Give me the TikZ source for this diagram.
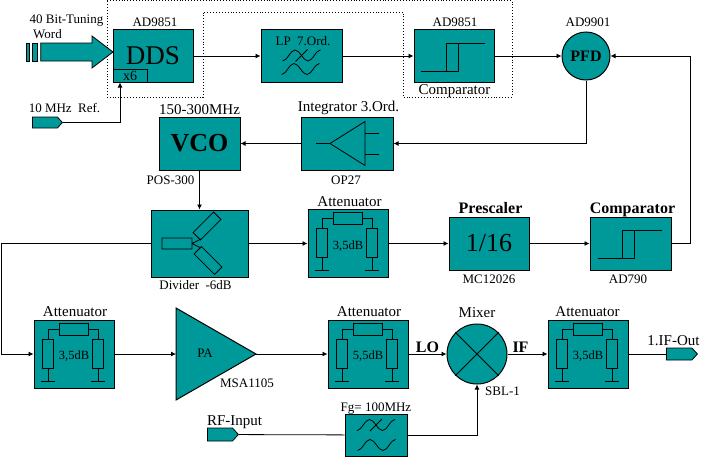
\documentclass[tikz,border=0pt]{standalone}
\usepackage{fontspec}
\setmainfont{Liberation Serif}
\usetikzlibrary{positioning,arrows.meta,shapes.symbols}
\definecolor{blockteal}{RGB}{0,153,153}

\tikzset{
	blk/.style={draw, fill=blockteal, line width=1pt, inner sep=0pt, minimum width=80, minimum height=53},
	attbox/.style={blk, minimum height=68, font=\fontsize{12.5}{14}\selectfont, text height=11pt, text depth=0pt},
	port/.style={signal, signal to=east, draw, fill=blockteal, inner sep=0pt, signal pointer angle=95},
	lbl/.style={font=\fontsize{13}{15}\selectfont, inner sep=0pt, anchor=base},
	ttl/.style={font=\fontsize{15}{17}\selectfont, inner sep=0pt, anchor=base},
	bttl/.style={font=\fontsize{16}{18}\selectfont\bfseries, inner sep=0pt, anchor=base},
	attnet/.pic={
		\draw (-15,-31) rectangle (14,-19);
		\draw (-31.5,-15) rectangle (-20.5,14) (18.5,-15) rectangle (29.5,14);
		\draw (-15,-25) -| (-26,-15) (14,-25) -| (24,-15);
		\draw (-26,14) -- (-26,27) (-33,27) -- (-19,27) (24,14) -- (24,27) (17,27) -- (31,27);
	},
	hyst/.pic={
		\draw (-33,15) -- (4,15) -- (4,-13) (-8,15) -- (-8,-13) -- (31,-13);
	},
	wave/.pic={
		\draw (-19,5.5) cos (-12.75,0) sin (-6.5,-5.5) cos (0,0) sin (6.5,5.5) cos (12.75,0) sin (19,-5.5);
	}
}

\begin{document}
\begin{tikzpicture}[x=1pt, y=-1pt, line width=0.8pt, >={Latex[length=5pt,width=5pt]}]
	\useasboundingbox (0,0) rectangle (709,461);
	\draw[dotted, line width=0.9pt] (107,0.5) -- (512,0.5) -- (512,97) -- (403,97) -- (403,12) -- (203,12) -- (203,97) -- (107,97) -- cycle;

	% top row
	\node[blk, font=\fontsize{27}{30}\selectfont] (dds) at (153,56) {DDS};
	\node[blk, minimum width=34, minimum height=13.5, font=\fontsize{14}{16}\selectfont, anchor=south west] (x6) at (dds.south west) {x6};
	\node[blk, minimum width=81] (lp) at (301.5,56) {};
	\node[blk] (cmpa) at (454,56) {};
	\node[circle, draw, fill=blockteal, line width=1pt, minimum size=48, inner sep=0pt, font=\fontsize{16}{18}\selectfont\bfseries] (pfd) at (586,56) {PFD};

	% middle rows
	\node[blk, minimum width=81, font=\fontsize{26}{28}\selectfont\bfseries] (vco) at (199.5,143.5) {VCO};
	\node[blk, minimum width=92] (intg) at (347,143.5) {};
	\node[blk, minimum width=97, minimum height=67] (div) at (199.5,243.5) {};
	\node[attbox] (atta) at (348,243.5) {3,5dB};
	\node[blk, font=\fontsize{26}{28}\selectfont] (pre) at (489,243.5) {1/16};
	\node[blk, minimum width=81] (cmpb) at (630.5,243.5) {};

	% bottom row
	\node[attbox] (attb) at (74,354) {3,5dB};
	\node[attbox] (attc) at (368,354) {5,5dB};
	\node[circle, draw, fill=blockteal, line width=1pt, minimum size=60, inner sep=0pt] (mix) at (477,354) {};
	\node[attbox] (attd) at (588,354) {3,5dB};
	\node[blk, minimum width=62, minimum height=42] (hp) at (376,435) {};
	\draw[fill=blockteal, line width=1pt] (176,308) -- (256,354) -- (176,400) -- cycle;
	\coordinate (pain) at (176,354);
	\coordinate (paout) at (256,354);

	% ports
	\draw[fill=blockteal] (26.7,43) rectangle (29.3,61) (32.3,43) rectangle (37.7,61);
	\draw[fill=blockteal] (40.7,43) -- (92,43) -- (92,36) -- (113,52) -- (92,68) -- (92,61) -- (40.7,61) -- cycle;
	\node[port, minimum width=30, minimum height=11, anchor=west] (ref) at (32,122.5) {};
	\node[port, minimum width=31, minimum height=13, anchor=west] (rfin) at (207,434.5) {};
	\node[port, minimum width=31, minimum height=12, anchor=west] (ifout) at (666,354) {};

	% symbols
	\foreach \a in {atta,attb,attc,attd} \pic at (\a) {attnet};
	\foreach \c in {cmpa,cmpb} \pic at (\c) {hyst};
	\pic at (301.5,55.5) {wave};
	\pic at (300.5,69) {wave};
	\pic at (376,425) {wave};
	\pic at (376.5,445) {wave};
	\draw (295.5,61.5) -- (307.5,49.5) (370,431) -- (382,419);
	\draw (330,143.5) -- (365,121.5) -- (365,165.5) -- cycle (316,143.5) -- (330,143.5);
	\draw (365,133) -- (379,133) (365,154) -- (379,154);
	\draw (162,238) rectangle (192,249) (192,243.5) -- (201,239) (192,243.5) -- (201,248);
	\node[draw, minimum width=29, minimum height=10.5, inner sep=0pt, rotate=45] (divup) at (207,226) {};
	\node[draw, minimum width=29, minimum height=10.5, inner sep=0pt, rotate=-45] (divdn) at (208,260.5) {};
	\draw (mix.north west) -- (mix.south east) (mix.north east) -- (mix.south west);

	% texts
	\node[lbl] (tword1) at (66.5,23) {40 Bit-Tuning};
	\node[lbl] (tword2) at (47.5,38) {Word};
	\node[lbl] (tref) at (64.5,112) {10 MHz\ \ Ref.};
	\node[lbl] (tdds) at (155,26) {AD9851};
	\node[lbl] (tlp) at (303,45.5) {LP\ \ 7.Ord.};
	\node[lbl] (tcmpa) at (455,26) {AD9851};
	\node[ttl] (tcmpa2) at (454.5,94.3) {Comparator};
	\node[lbl] (tpfd) at (588,26.7) {AD9901};
	\node[ttl] (tvco) at (199.5,114) {150-300MHz};
	\node[lbl] (tvco2) at (170.5,184) {POS-300};
	\node[ttl] (tintg) at (348.5,111.7) {Integrator 3.Ord.};
	\node[lbl] (tintg2) at (346,184) {OP27};
	\node[lbl] (tdiv) at (195.5,289) {Divider\ \ -6dB};
	\node[ttl] (tatta) at (349.5,206.7) {Attenuator};
	\node[bttl] (tpre) at (490.5,213) {Prescaler};
	\node[lbl] (tpre2) at (489,283) {MC12026};
	\node[bttl] (tcmpb) at (632.5,213) {Comparator};
	\node[lbl] (tcmpb2) at (628,283) {AD790};
	\node[ttl] (tattb) at (75,316.7) {Attenuator};
	\node[lbl] (tpa) at (205,357) {PA};
	\node[lbl] (tpa2) at (247,387) {MSA1105};
	\node[ttl] (tattc) at (369,316.7) {Attenuator};
	\node[bttl] (tlo) at (427.5,352.7) {LO};
	\node[ttl] (tmix) at (477,317) {Mixer};
	\node[bttl] (tif) at (520.5,352.7) {IF};
	\node[lbl] (tmix2) at (502.5,395) {SBL-1};
	\node[ttl] (tattd) at (587.5,316.7) {Attenuator};
	\node[ttl] (tifout) at (673.5,345) {1.IF-Out};
	\node[ttl] (trfin) at (234.5,425) {RF-Input};
	\node[lbl] (thp) at (376,411) {Fg= 100MHz};

	% connectors
	\coordinate (refin) at (120,82.5);
	\coordinate (fbk) at (690.5,243.5);
	\coordinate (lft) at (1.5,243.5);
	\draw[->] (ref) -| (refin);
	\draw[->] (dds) -- (lp);
	\draw[->] (lp) -- (cmpa);
	\draw[->] (cmpa) -- (pfd);
	\draw[->] (pfd) |- (intg);
	\draw[->] (intg) -- (vco);
	\draw[->] (vco) -- (div);
	\draw[->] (div) -- (atta);
	\draw[->] (atta) -- (pre);
	\draw[->] (pre) -- (cmpb);
	\draw[->] (cmpb) -- (fbk) |- (pfd);
	\draw[->] (div) -- (lft) |- (attb);
	\draw[->] (attb) -- (pain);
	\draw[->] (paout) -- (attc);
	\draw[->] (attc) -- (mix);
	\draw[->] (mix) -- (attd);
	\draw (attd) -- (ifout);
	\draw (rfin) -- (hp);
	\draw[->] (hp) -| (mix);
\end{tikzpicture}
\end{document}
